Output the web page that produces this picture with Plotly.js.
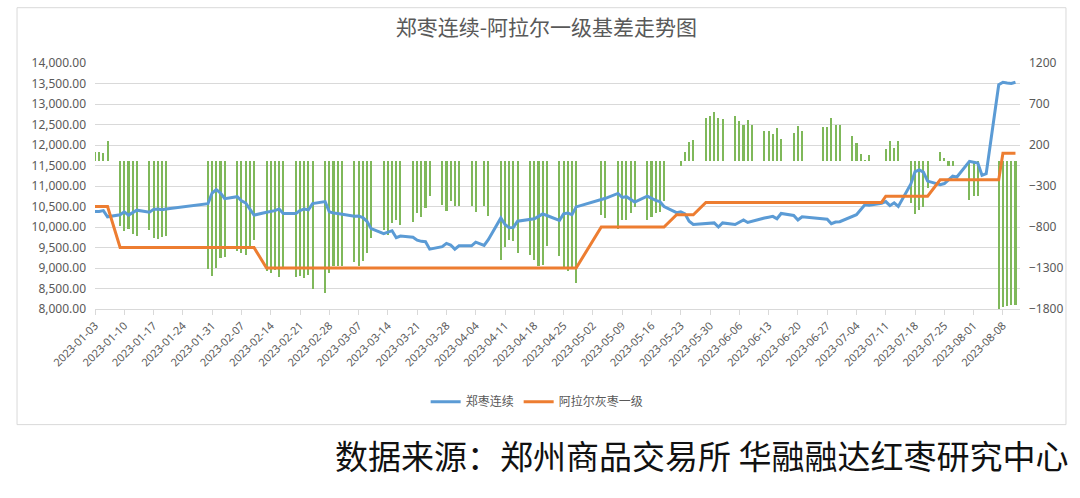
<!DOCTYPE html>
<html>
<head>
<meta charset="utf-8">
<script src="https://cdn.plot.ly/plotly-3.0.1.min.js"></script>
<style>
  html, body { margin: 0; padding: 0; background: #ffffff; }
  #chart { width: 1080px; height: 498px; }
</style>
</head>
<body>
<div id="chart"></div>
<script>
// Trading days
const dates = [
  '2023-01-03','2023-01-04','2023-01-05','2023-01-06',
  '2023-01-09','2023-01-10','2023-01-11','2023-01-12','2023-01-13',
  '2023-01-16','2023-01-17','2023-01-18','2023-01-19','2023-01-20',
  '2023-01-30','2023-01-31','2023-02-01','2023-02-02','2023-02-03',
  '2023-02-06','2023-02-07','2023-02-08','2023-02-09','2023-02-10',
  '2023-02-13','2023-02-14','2023-02-15','2023-02-16','2023-02-17',
  '2023-02-20','2023-02-21','2023-02-22','2023-02-23','2023-02-24',
  '2023-02-27','2023-02-28','2023-03-01','2023-03-02','2023-03-03',
  '2023-03-06','2023-03-07','2023-03-08','2023-03-09','2023-03-10',
  '2023-03-13','2023-03-14','2023-03-15','2023-03-16','2023-03-17',
  '2023-03-20','2023-03-21','2023-03-22','2023-03-23','2023-03-24',
  '2023-03-27','2023-03-28','2023-03-29','2023-03-30','2023-03-31',
  '2023-04-03','2023-04-04','2023-04-06','2023-04-07',
  '2023-04-10','2023-04-11','2023-04-12','2023-04-13','2023-04-14',
  '2023-04-17','2023-04-18','2023-04-19','2023-04-20','2023-04-21',
  '2023-04-24','2023-04-25','2023-04-26','2023-04-27','2023-04-28',
  '2023-05-04','2023-05-05',
  '2023-05-08','2023-05-09','2023-05-10','2023-05-11','2023-05-12',
  '2023-05-15','2023-05-16','2023-05-17','2023-05-18','2023-05-19',
  '2023-05-22','2023-05-23','2023-05-24','2023-05-25','2023-05-26',
  '2023-05-29','2023-05-30','2023-05-31','2023-06-01','2023-06-02',
  '2023-06-05','2023-06-06','2023-06-07','2023-06-08','2023-06-09',
  '2023-06-12','2023-06-13','2023-06-14','2023-06-15','2023-06-16',
  '2023-06-19','2023-06-20','2023-06-21',
  '2023-06-26','2023-06-27','2023-06-28','2023-06-29','2023-06-30',
  '2023-07-03','2023-07-04','2023-07-05','2023-07-06','2023-07-07',
  '2023-07-10','2023-07-11','2023-07-12','2023-07-13','2023-07-14',
  '2023-07-17','2023-07-18','2023-07-19','2023-07-20','2023-07-21',
  '2023-07-24','2023-07-25','2023-07-26','2023-07-27','2023-07-28',
  '2023-07-31','2023-08-01','2023-08-02','2023-08-03','2023-08-04',
  '2023-08-07','2023-08-08','2023-08-09','2023-08-10','2023-08-11'
];

// 郑枣连续 (left axis)
const zhengzaoLianxu = [
  10380,10380,10400,10250,
  10300,10370,10290,10340,10410,
  10360,10430,10440,10420,10440,
  10570,10830,10910,10830,10690,
  10740,10640,10590,10450,10290,
  10360,10380,10400,10440,10330,
  10330,10400,10440,10420,10570,
  10620,10370,10340,10330,10310,
  10260,10270,10230,10140,9960,
  9840,9880,9910,9740,9780,
  9750,9680,9650,9640,9460,
  9520,9600,9560,9460,9540,
  9540,9630,9550,9690,
  10220,10060,9980,9990,10140,
  10180,10200,10260,10320,10280,
  10160,10320,10340,10300,10490,
  10670,10700,
  10820,10720,10740,10680,10610,
  10750,10690,10650,10620,10500,
  10350,10370,10320,10140,10060,
  10080,10090,10100,10000,10100,
  10060,10110,10170,10110,10140,
  10220,10240,10260,10200,10330,
  10280,10170,10250,
  10200,10190,10080,10120,10130,
  10250,10300,10420,10540,10530,
  10580,10620,10520,10590,10500,
  11050,11350,11390,11340,11120,
  11030,11060,11160,11240,11220,
  11600,11580,11560,11260,11300,
  13470,13530,13510,13500,13530
];

// 阿拉尔灰枣一级 (left axis)
const alaerHuizaoYiji = [
  10500,10500,10500,10500,
  9500,9500,9500,9500,9500,
  9500,9500,9500,9500,9500,
  9500,9500,9500,9500,9500,
  9500,9500,9500,9500,9500,
  9000,9000,9000,9000,9000,
  9000,9000,9000,9000,9000,
  9000,9000,9000,9000,9000,
  9000,9000,9000,9000,9000,
  9000,9000,9000,9000,9000,
  9000,9000,9000,9000,9000,
  9000,9000,9000,9000,9000,
  9000,9000,9000,9000,
  9000,9000,9000,9000,9000,
  9000,9000,9000,9000,9000,
  9000,9000,9000,9000,9000,
  10000,10000,
  10000,10000,10000,10000,10000,
  10000,10000,10000,10000,10000,
  10300,10300,10300,10300,10300,
  10600,10600,10600,10600,10600,
  10600,10600,10600,10600,10600,
  10600,10600,10600,10600,10600,
  10600,10600,10600,
  10600,10600,10600,10600,10600,
  10600,10600,10600,10600,10600,
  10600,10750,10750,10750,10750,
  10750,10750,10750,10750,10750,
  11150,11150,11150,11150,11150,
  11150,11150,11150,11150,11150,
  11150,11800,11800,11800,11800
];

// 基差 (right axis, bars)
const jicha = [
  120,120,100,250,
  -790,-850,-825,-880,-905,
  -840,-935,-945,-920,-915,
  -1310,-1400,-1300,-1180,-1165,
  -1095,-1120,-1140,-1065,-955,
  -1340,-1355,-1330,-1415,-1300,
  -1410,-1400,-1420,-1380,-1560,
  -1600,-1360,-1275,-1280,-1280,
  -1225,-1275,-1220,-1115,-930,
  -833,-900,-752,-711,-772,
  -744,-635,-675,-573,-416,
  -528,-605,-488,-540,-540,
  -545,-617,-545,-665,
  -1199,-1044,-955,-976,-1120,
  -1138,-1199,-1280,-1260,-1037,
  -1158,-1285,-1341,-1285,-1483,
  -655,-691,
  -830,-710,-710,-630,-556,
  -715,-680,-625,-615,-480,
  8,-60,120,240,265,
  529,549,598,529,517,
  557,488,448,508,448,
  374,366,334,407,273,
  346,435,366,
  419,419,529,448,448,
  305,224,94,20,76,
  6,147,244,163,244,
  -510,-638,-595,-550,-330,
  118,41,-61,-61,null,
  -470,-420,-420,null,null,
  -1800,-1770,-1760,-1750,-1750
];

const seriesNames = ['郑枣连续', '阿拉尔灰枣一级'];
const chartTitle = '郑枣连续-阿拉尔一级基差走势图';
const sourceText = '数据来源：郑州商品交易所 华融融达红枣研究中心';

const gray = '#595959';
const gridC = '#D9D9D9';
const baseFont = 'Noto Sans, "Noto Sans CJK SC", sans-serif';

const traces = [
  {
    type: 'bar', x: dates, y: jicha, yaxis: 'y', name: '基差',
    marker: { color: '#7FB85A', line: { width: 0 } },
    width: 0.5 * 86400000, showlegend: false
  },
  {
    type: 'scatter', mode: 'lines', x: dates, y: zhengzaoLianxu, yaxis: 'y2',
    name: seriesNames[0], line: { color: '#5B9BD5', width: 3 }
  },
  {
    type: 'scatter', mode: 'lines', x: dates, y: alaerHuizaoYiji, yaxis: 'y2',
    name: seriesNames[1], line: { color: '#ED7D31', width: 3 }
  }
];

const layout = {
  width: 1080, height: 498,
  margin: { l: 95, r: 60, t: 63, b: 189 },
  paper_bgcolor: '#ffffff', plot_bgcolor: '#ffffff',
  font: { family: baseFont, color: gray, size: 12 },
  title: {
    text: chartTitle, xref: 'container', x: 0.506, xanchor: 'center',
    yref: 'container', y: 0.944, yanchor: 'middle',
    font: { family: '"Noto Sans CJK SC", sans-serif', size: 21, color: gray }
  },
  xaxis: {
    type: 'date', range: ['2023-01-03', '2023-08-12 02:00'],
    tick0: '2023-01-03', dtick: 7 * 86400000, tickformat: '%Y-%m-%d',
    tickangle: -45, tickfont: { size: 11, color: gray },
    ticks: 'outside', ticklen: 5, tickcolor: gridC,
    showline: true, linecolor: gridC, linewidth: 1, showgrid: false, zeroline: false
  },
  yaxis: {
    side: 'right', range: [-1800, 1200], tick0: -1800, dtick: 500,
    showgrid: false, zeroline: false, showline: false, ticks: '',
    ticklabelstandoff: 8, tickfont: { size: 12, color: gray }
  },
  yaxis2: {
    overlaying: 'y', side: 'left', range: [8000, 14000], tick0: 8000, dtick: 500,
    tickformat: ',.2f', showgrid: true, gridcolor: gridC, gridwidth: 1,
    zeroline: false, showline: false, ticks: '', ticklabelstandoff: 8,
    tickfont: { size: 12, color: gray }
  },
  bargap: 0,
  showlegend: true,
  legend: {
    orientation: 'h', x: 0.478, xanchor: 'center', y: -0.377, yanchor: 'middle',
    font: { size: 12, color: gray }, bgcolor: 'rgba(0,0,0,0)'
  },
  shapes: [
    { type: 'rect', xref: 'paper', yref: 'paper', x0: -0.0843, x1: 1.0497, y0: -0.47, y1: 1.2248,
      line: { color: gridC, width: 1 }, fillcolor: 'rgba(0,0,0,0)', layer: 'below' }
  ],
  annotations: [
    { text: sourceText, xref: 'paper', yref: 'paper', x: 1.054, xanchor: 'right',
      y: -0.592, yanchor: 'middle', showarrow: false,
      font: { family: '"Noto Sans CJK SC", sans-serif', size: 33, color: '#111111' } }
  ]
};

Plotly.newPlot('chart', traces, layout, { displayModeBar: false, staticPlot: true });
</script>
</body>
</html>
